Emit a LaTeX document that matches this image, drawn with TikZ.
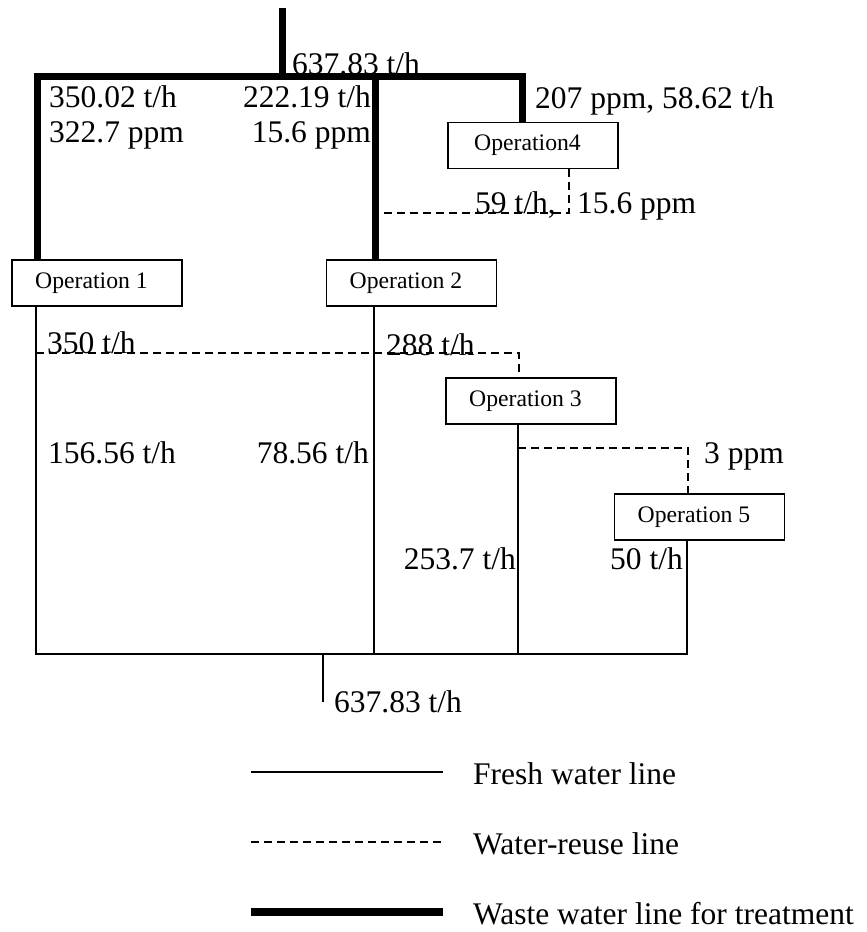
\documentclass[tikz,border=0pt]{standalone}
\usepackage{fontspec}
\setmainfont{Liberation Serif}
\usetikzlibrary{positioning}

\begin{document}
\begin{tikzpicture}[
  x=1pt,y=-1pt,
  line cap=butt,line join=miter,
  opbox/.style={draw,line width=1.8pt,minimum width=170pt,minimum height=46pt,inner sep=0pt,
                font=\fontsize{23.7}{26}\selectfont,execute at end node={\hspace*{11pt}}},
  lbl/.style={inner sep=0pt,font=\fontsize{31.5}{36}\selectfont},
  waste/.style={line width=7pt},
  keywaste/.style={line width=8pt},
  fresh/.style={line width=1.8pt},
  reuse/.style={line width=1.5pt,dash pattern=on 8pt off 5pt}
]
\useasboundingbox (0,0) rectangle (867,932);

% Operations
\node[opbox] (op1) at (97,283) {Operation 1};
\node[opbox] (op2) at (411.5,283) {Operation 2};
\node[opbox] (op4) at (533,145.5) {Operation4};
\node[opbox] (op3) at (531,401) {Operation 3};
\node[opbox] (op5) at (699.5,517) {Operation 5};

% Waste water header
\coordinate (inlet) at (282,8);
\coordinate (hl) at (37,76);
\coordinate (h2) at (375,76);
\coordinate (hr) at (522,76);
\draw[waste] (inlet) -- (inlet |- hl);
\draw[waste] (op1.north -| hl) -- (hl) -- (hr) -- (op4.north -| hr);
\draw[waste] (h2) -- (op2.north -| h2);

% Fresh water lines
\coordinate (b1) at (36,654);
\coordinate (b2) at (374,654);
\coordinate (b3) at (518,654);
\coordinate (b5) at (687,654);
\coordinate (out) at (323,702);
\draw[fresh] (op1.south -| b1) -- (b1) -- (b5) -- (op5.south -| b5);
\foreach \n in {2,3}{\draw[fresh] (op\n.south -| b\n) -- (b\n);}
\draw[fresh] (out |- b1) -- (out);

% Water reuse lines
\coordinate (r1) at (36,353);
\coordinate (r3) at (519,353);
\coordinate (r2) at (374,213);
\coordinate (r4) at (569,213);
\coordinate (r5) at (518,448);
\coordinate (r6) at (688,448);
\draw[reuse] (r1) -- (r3) -- (op3.north -| r3);
\draw[reuse] (op4.south -| r4) -- (r4) -- (r2);
\draw[reuse] (r5) -- (r6) -- (op5.north -| r6);

% Flow labels
\node[lbl,anchor=base west] (qin) at (292,74) {637.83 t/h};
\node[lbl,anchor=base west] (q1) at (49,107) {350.02 t/h};
\node[lbl,anchor=base west] (c1) at (49,142) {322.7 ppm};
\node[lbl,anchor=base east] (q2) at (371,107) {222.19 t/h};
\node[lbl,anchor=base east] (c2) at (371,142) {15.6 ppm};
\node[lbl,anchor=base west] (q4) at (535,108) {207 ppm, 58.62 t/h};
\node[lbl,anchor=base west] (q42) at (475,213) {59 t/h,};
\node[lbl,anchor=base west] (c42) at (577,213) {15.6 ppm};
\node[lbl,anchor=base west] (q13) at (47,353) {350 t/h};
\node[lbl,anchor=base west] (q23) at (386,355) {288 t/h};
\node[lbl,anchor=base west] (f1) at (48,463) {156.56 t/h};
\node[lbl,anchor=base east] (f2) at (369,463) {78.56 t/h};
\node[lbl,anchor=base west] (c35) at (704,463) {3 ppm};
\node[lbl,anchor=base east] (f3) at (516,569) {253.7 t/h};
\node[lbl,anchor=base east] (f5) at (683,569) {50 t/h};
\node[lbl,anchor=base west] (qout) at (334,712) {637.83 t/h};

% Legend
\foreach \s/\t/\y [count=\i] in {fresh/Fresh water line/772,reuse/Water-reuse line/842,keywaste/Waste water line for treatment/912}{
  \node[lbl,anchor=base west] (key\i) at (473,\y+12) {\t};
  \coordinate (sw\i) at (251,\y);
  \draw[\s,shorten >=30pt] (sw\i) -- (sw\i -| key\i.west);
}
\end{tikzpicture}
\end{document}
